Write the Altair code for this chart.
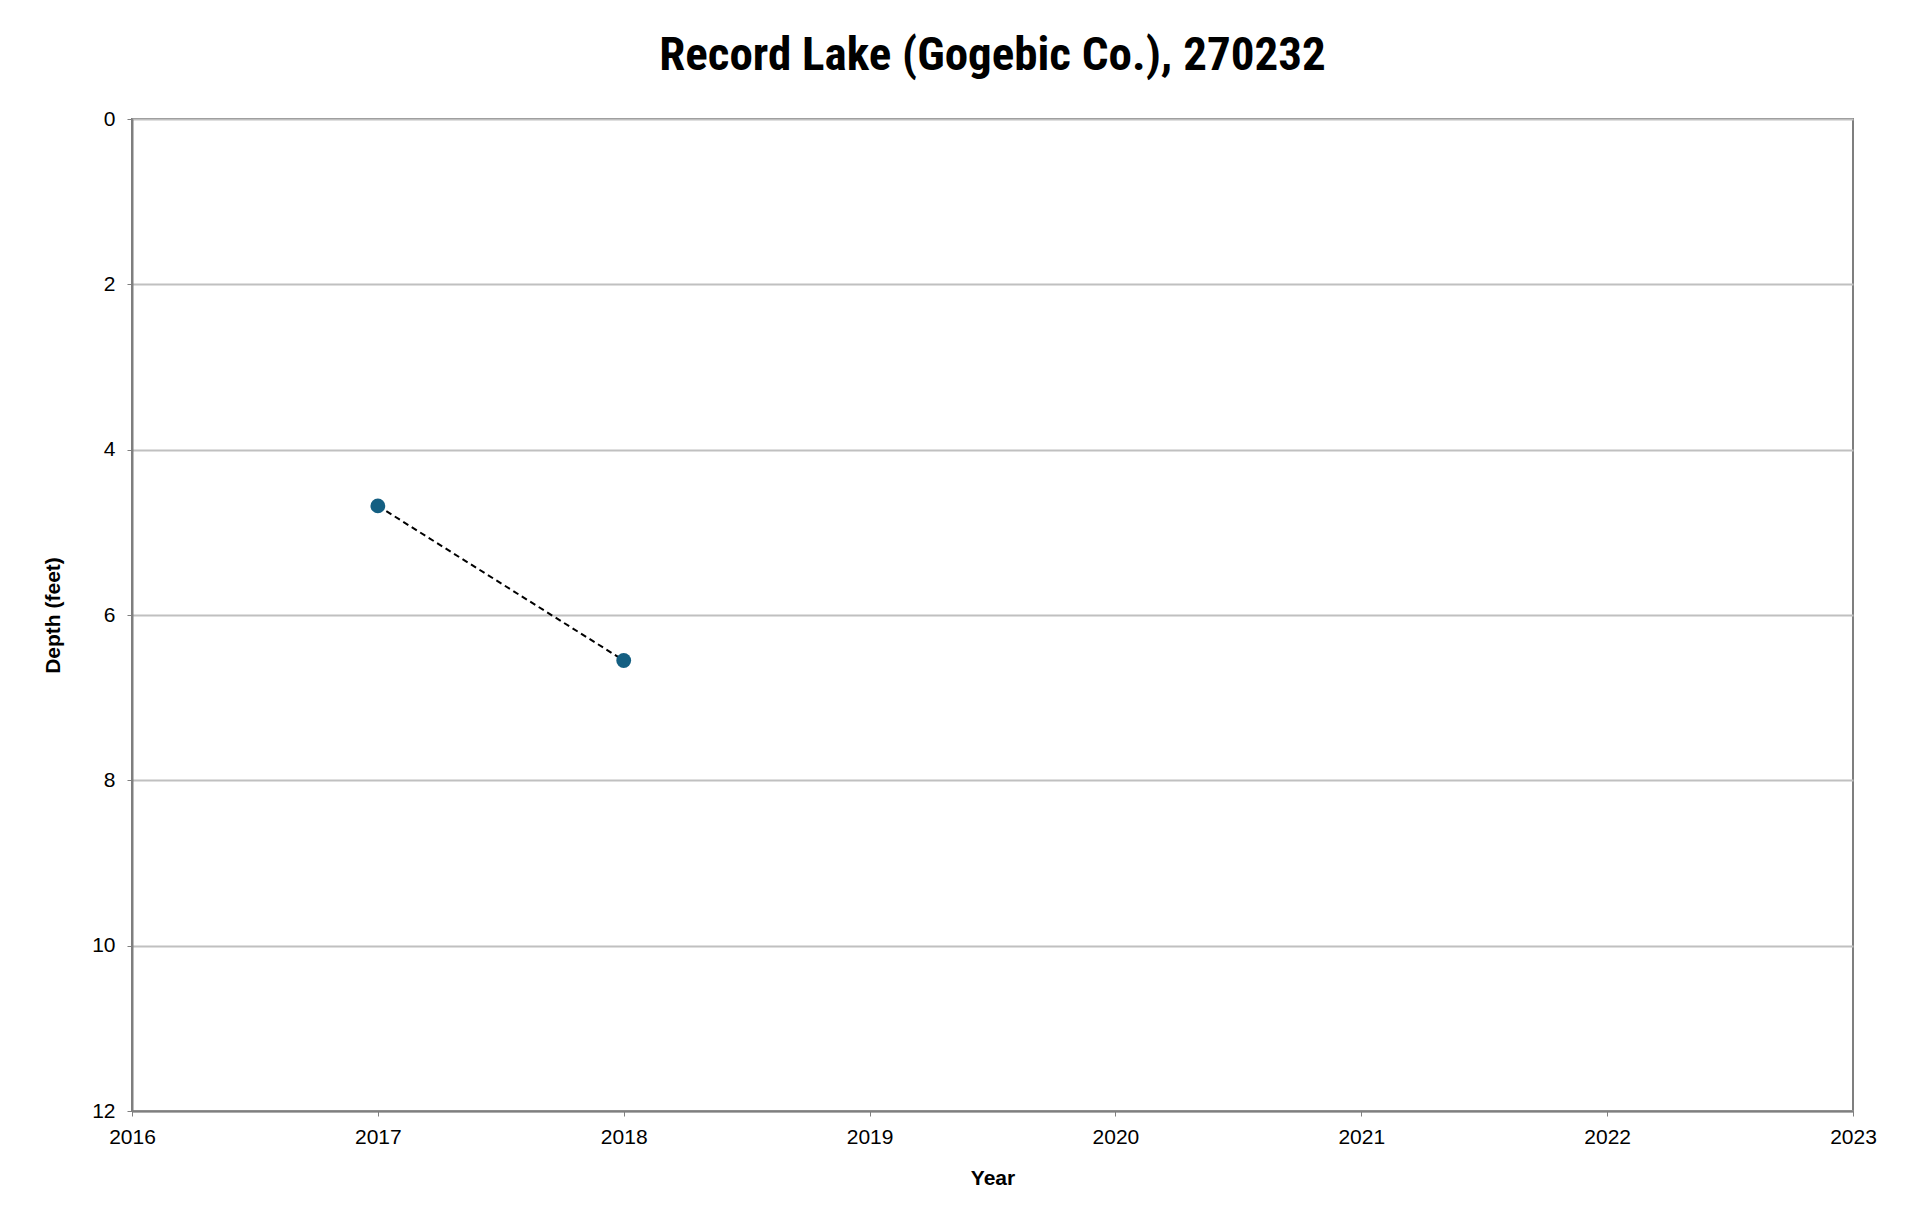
import pandas as pd
import altair as alt

years = [2017, 2018]
depths = [4.68, 6.55]

data = pd.DataFrame({"year": years, "depth": depths})

base = alt.Chart(data).encode(
    x=alt.X(
        "year:Q",
        scale=alt.Scale(domain=[2016, 2023], nice=False),
        axis=alt.Axis(
            title="Year", format="d", values=list(range(2016, 2024)),
            labelOverlap=False, labelFlush=False,
            grid=False, labelFontSize=21, titleFontSize=21, titleFontWeight="bold",
            domainColor="#7f7f7f", tickColor="#7f7f7f", domainWidth=2, labelColor="black",
            titleColor="black", labelPadding=10, titlePadding=20,
        ),
    ),
    y=alt.Y(
        "depth:Q",
        scale=alt.Scale(domain=[0, 12], reverse=True, nice=False),
        axis=alt.Axis(
            title="Depth (feet)", values=[0, 2, 4, 6, 8, 10, 12],
            labelOverlap=False, labelFlush=False,
            gridColor="#c0c0c0", gridWidth=2, labelFontSize=21, titleFontSize=21,
            titleFontWeight="bold", domainColor="#7f7f7f", tickColor="#7f7f7f",
            domainWidth=2, labelColor="black", titleColor="black", labelPadding=12,
            titlePadding=28,
        ),
    ),
)

line = base.mark_line(color="black", strokeDash=[6, 4], strokeWidth=2)
points = base.mark_circle(size=220, color="#145f82", opacity=1)

chart = (line + points).properties(
    width=1721,
    height=992,
    autosize="none",
    padding={"left": 124, "top": 111, "right": 55, "bottom": 100},
    title=alt.TitleParams(
        "Record Lake (Gogebic Co.), 270232", fontSize=47, fontWeight="bold",
        color="black", offset=28, font="Liberation Sans Narrow, Roboto Condensed, Roboto",
    ),
).configure(font="Liberation Sans").configure_view(stroke="#7f7f7f", strokeWidth=2)

chart.save("out.html", embed_options={"renderer": "svg", "actions": False})
